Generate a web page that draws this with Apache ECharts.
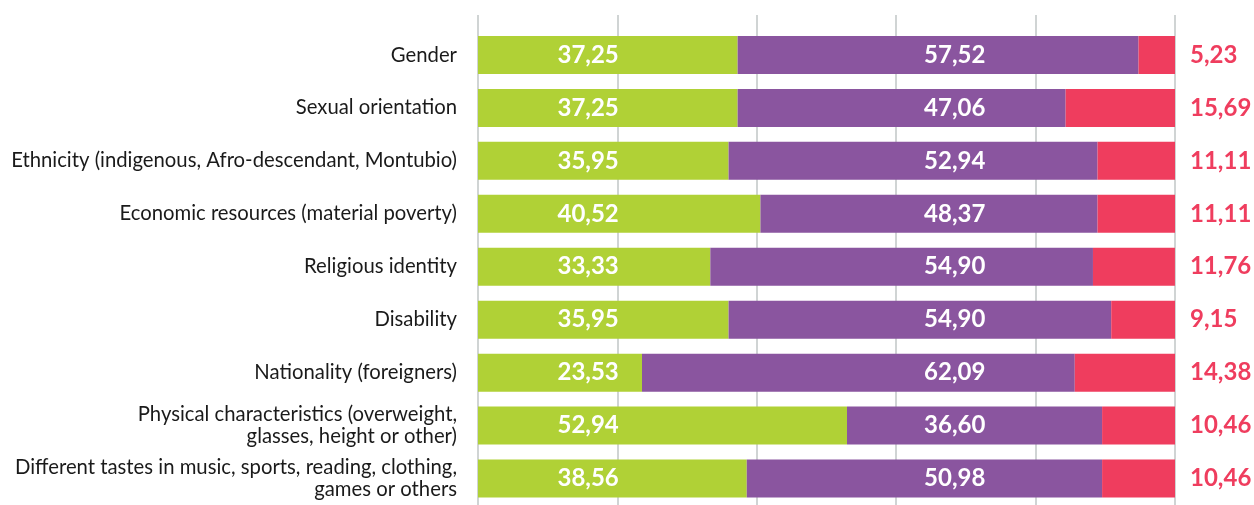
<!DOCTYPE html>
<html>
<head>
<meta charset="utf-8">
<script src="https://cdn.jsdelivr.net/npm/echarts@6/dist/echarts.min.js"></script>
<style>
  html, body { margin: 0; padding: 0; background: #fff; }
  #chart { width: 1254px; height: 505px; }
</style>
</head>
<body>
<div id="chart"></div>
<script>
// categories, top to bottom
const categories = [
  'Gender',
  'Sexual orientation',
  'Ethnicity (indigenous, Afro-descendant, Montubio)',
  'Economic resources (material poverty)',
  'Religious identity',
  'Disability',
  'Nationality (foreigners)',
  'Physical characteristics (overweight,\nglasses, height or other)',
  'Different tastes in music, sports, reading, clothing,\ngames or others'
]
const greenValues = [37.25, 37.25, 35.95, 40.52, 33.33, 35.95, 23.53, 52.94, 38.56]
const purpleValues = [57.52, 47.06, 52.94, 48.37, 54.90, 54.90, 62.09, 36.60, 50.98]
const redValues = [5.23, 15.69, 11.11, 11.11, 11.76, 9.15, 14.38, 10.46, 10.46]

// the value labels sit in fixed columns, not in the middle of each segment
const greenLabelX = 15.8
const purpleLabelX = 68.4

const fmtNum = (v) => v.toFixed(2).replace('.', ',')
const font = 'Lato, "Open Sans", sans-serif'

const chart = echarts.init(document.getElementById('chart'))

const splitStyle = { show: true, lineStyle: { color: '#d0d4d4', width: 2 } }

const labelSeries = (values, x) => ({
  type: 'scatter',
  data: values.map((v, i) => [x, i, v]),
  symbolSize: 2,
  itemStyle: { color: 'rgba(0,0,0,0)', opacity: 1 },
  z: 5,
  silent: true,
  label: {
    show: true, position: 'inside',
    formatter: (p) => fmtNum(p.value[2]),
    color: '#fff', fontSize: 24, fontWeight: 'bold', fontFamily: font
  }
})

chart.setOption({
  animation: false,
  grid: [
    { left: 478, right: 79, top: 28.5, bottom: -1 },
    // strip above the first bar so the grid lines reach the top
    { left: 478, right: 79, top: 15, height: 14 }
  ],
  xAxis: [
    {
      gridIndex: 0, type: 'value', min: 0, max: 100, interval: 20,
      axisLine: { show: false }, axisTick: { show: false }, axisLabel: { show: false },
      splitLine: splitStyle
    },
    {
      gridIndex: 1, type: 'value', min: 0, max: 100, interval: 20,
      axisLine: { show: false }, axisTick: { show: false }, axisLabel: { show: false },
      splitLine: splitStyle
    }
  ],
  yAxis: [
    {
      gridIndex: 0, type: 'category', data: categories, inverse: true,
      axisLine: { show: false }, axisTick: { show: false },
      axisLabel: {
        margin: 21, color: '#1a1a1a', fontSize: 20.3, fontFamily: font,
        lineHeight: 22, align: 'right'
      }
    },
    {
      gridIndex: 1, type: 'category', data: [''],
      axisLine: { show: false }, axisTick: { show: false }, axisLabel: { show: false }
    }
  ],
  series: [
    {
      type: 'bar', stack: 'all', data: greenValues, barWidth: 38,
      itemStyle: { color: '#b0d136' }
    },
    {
      type: 'bar', stack: 'all', data: purpleValues, barWidth: 38,
      itemStyle: { color: '#8a559f' }
    },
    {
      type: 'bar', stack: 'all', data: redValues, barWidth: 38,
      itemStyle: { color: '#ef3d5e' },
      label: {
        show: true, position: 'right', distance: 15,
        formatter: (p) => fmtNum(p.value),
        color: '#ef3d5e', fontSize: 24, fontWeight: 'bold', fontFamily: font
      }
    },
    labelSeries(greenValues, greenLabelX),
    labelSeries(purpleValues, purpleLabelX)
  ]
})
</script>
</body>
</html>
